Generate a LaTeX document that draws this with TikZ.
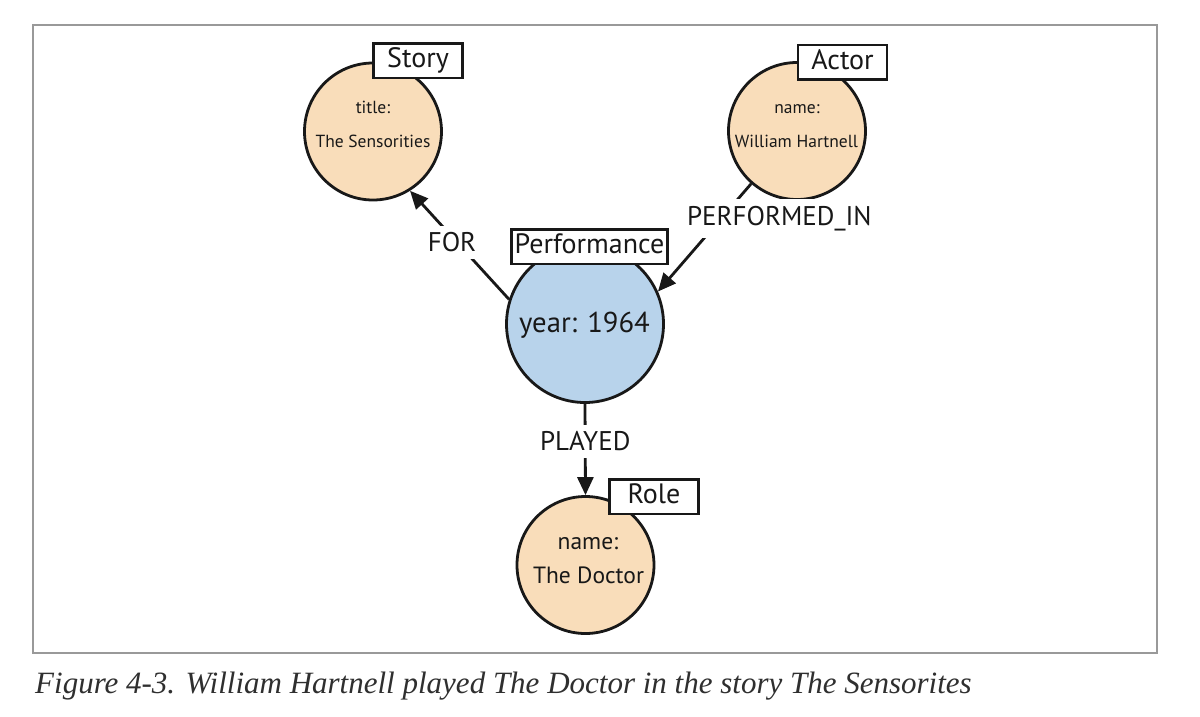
\documentclass[tikz,border=0pt]{standalone}
\usepackage{fontspec}
\setmainfont{PT Sans}
\newfontfamily\capfont{Liberation Serif}
\usetikzlibrary{arrows.meta}
\definecolor{peach}{RGB}{249,221,186}
\definecolor{paleblue}{RGB}{184,211,235}
\definecolor{ink}{RGB}{24,24,24}
\begin{document}
\begin{tikzpicture}[x=1pt,y=-1pt,
 ent/.style={circle,draw=ink,line width=2.8pt,fill=peach,minimum size=137pt,inner sep=0pt},
 tag/.style={draw=ink,line width=2.5pt,fill=white,font=\fontsize{28}{30}\selectfont,text=ink,inner xsep=3pt,inner ysep=0pt,minimum width=89pt,minimum height=34.5pt,text height=20pt,text depth=6pt},
 prop/.style={font=\fontsize{17.5}{20}\selectfont,text=ink,anchor=base,inner sep=0pt},
 bigprop/.style={font=\fontsize{23.5}{26}\selectfont,text=ink,anchor=base,inner sep=0pt},
 rel/.style={font=\fontsize{27}{29}\selectfont,text=ink,fill=white,inner xsep=3pt,inner ysep=7pt},
 arr/.style={draw=ink,line width=2.8pt,-{Triangle[length=18pt,width=16pt]}}]

\fill[white] (0,0) rectangle (1200,716);
\useasboundingbox (0,0) rectangle (1200,716);
\draw[black!40, line width=1.5pt] (33,25) rectangle (1157,653);

% entity circles
\node[ent] (story) at (373,131.5) {};
\node[ent] (actor) at (797,131) {};
\node[ent, fill=paleblue, minimum size=157pt] (perf) at (585,324) {};
\node[ent] (role) at (585.5,565) {};

% properties
\node[prop] (storyk) at (373,113) {title:};
\node[prop] (storyv) at (373,147) {The Sensorities};
\node[prop] (actork) at (797,113) {name:};
\node[prop] (actorv) at (796.5,147) {William Hartnell};
\node[font=\fontsize{28.7}{31}\selectfont,text=ink,anchor=base,inner sep=0pt] (perfv) at (584.5,332) {year: 1964};
\node[bigprop] (rolek) at (588,549) {name:};
\node[bigprop] (rolev) at (588.5,583) {The Doctor};

% relationships
\draw[arr] (perf.162) -- node[rel, pos=0.525, xshift=-5pt] (forl) {FOR} (story.-58);
\draw[arr] (actor.-131) -- node[rel, pos=0.32, xshift=58pt] (perfl) {PERFORMED\_IN} (perf.24);
\draw[arr] (perf.south) -- node[rel, pos=0.41] (playl) {PLAYED} (role.north);

% labels
\node[tag] (storyt) at (418,60.5) {Story};
\node[tag] (actort) at (842.5,62) {Actor};
\node[tag] (perft) at (589.5,246.5) {Performance};
\node[tag] (rolet) at (654,496.5) {Role};

% caption
\node[anchor=base west, font=\capfont\itshape\fontsize{31}{33}\selectfont, text=ink!90, inner sep=0pt] (cap) at (35,693) {Figure 4-3. William Hartnell played The Doctor in the story The Sensorites};
\end{tikzpicture}
\end{document}
